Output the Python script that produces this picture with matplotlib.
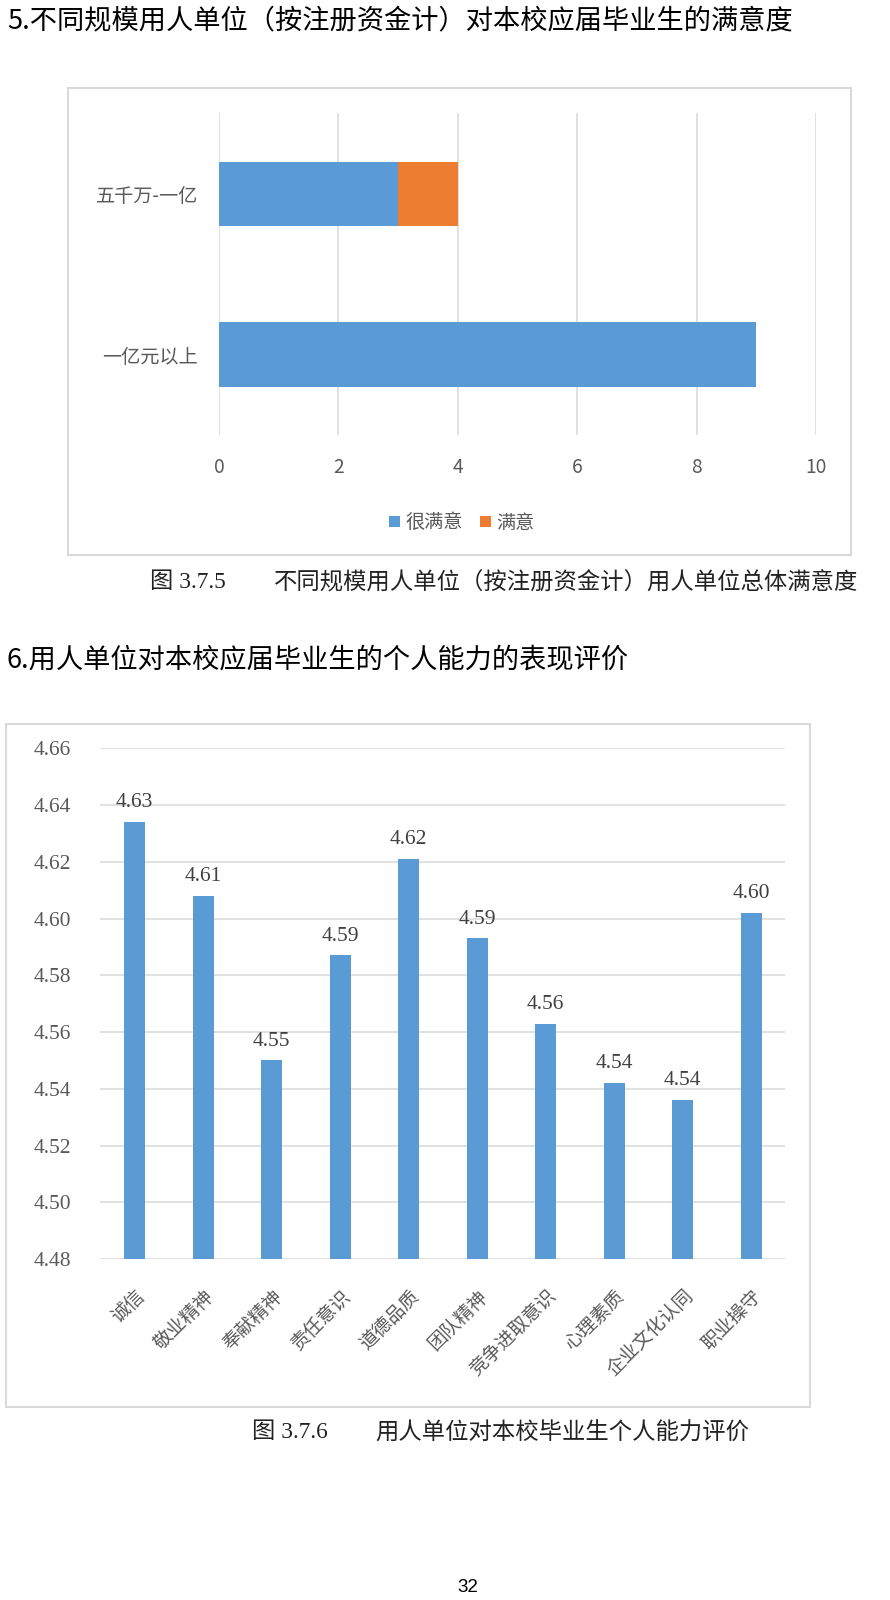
import matplotlib
matplotlib.use("Agg")
import matplotlib.pyplot as plt
from matplotlib.patches import Rectangle, Patch

plt.rcParams['font.family'] = ['Noto Sans CJK SC', 'DejaVu Sans']

# ---------------- data ----------------
scale_categories = ['一亿元以上', '五千万-一亿']
very_satisfied = [9, 3]
satisfied = [0, 1]
series_names = ['很满意', '满意']
x1_ticks = [0, 2, 4, 6, 8, 10]

ability_categories = ['诚信', '敬业精神', '奉献精神', '责任意识', '道德品质',
                      '团队精神', '竞争进取意识', '心理素质', '企业文化认同', '职业操守']
ability_scores = [4.634, 4.608, 4.550, 4.587, 4.621, 4.593, 4.563, 4.542, 4.536, 4.602]
y2_ticks = [4.48, 4.50, 4.52, 4.54, 4.56, 4.58, 4.60, 4.62, 4.64, 4.66]

title1 = '5.不同规模用人单位（按注册资金计）对本校应届毕业生的满意度'
title2 = '6.用人单位对本校应届毕业生的个人能力的表现评价'
cap1_num = '图 3.7.5'
cap1_text = '不同规模用人单位（按注册资金计）用人单位总体满意度'
cap2_num = '图 3.7.6'
cap2_text = '用人单位对本校毕业生个人能力评价'
page_no = '32'

BLUE = '#5B9BD5'
ORANGE = '#ED7D31'
GRID = '#D9D9D9'
TXT = '#595959'

W, H = 890, 1600
fig = plt.figure(figsize=(W / 100, H / 100), dpi=100)


def fx(px):
    return px / W


def fy(py):
    return 1 - py / H


def ax_rect(l, t, r, b):
    return [fx(l), fy(b), (r - l) / W, (b - t) / H]


serif_num = ['Liberation Serif', 'Noto Sans CJK SC']

# ---------------- titles ----------------
fig.text(fx(7), fy(21), title1, fontsize=19.6, fontweight='medium', va='center', ha='left', color='black')
fig.text(fx(7), fy(660), title2, fontsize=19.6, fontweight='medium', va='center', ha='left', color='black')

# ---------------- chart 1 ----------------
fig.patches.append(Rectangle((fx(68.3), fy(555)), (850.7 - 68.3) / W, (555 - 88.3) / H,
                             transform=fig.transFigure, fill=False, edgecolor=GRID, linewidth=1.5))
ax1 = fig.add_axes(ax_rect(219, 113.3, 816, 435))
ypos = list(range(len(scale_categories)))
ax1.barh(ypos, very_satisfied, height=0.4, color=BLUE, label=series_names[0], zorder=3)
ax1.barh(ypos, satisfied, left=very_satisfied, height=0.4, color=ORANGE, label=series_names[1], zorder=3)
ax1.set_xlim(0, 10)
ax1.set_ylim(-0.5, 1.5)
ax1.set_xticks(x1_ticks)
ax1.set_yticks(ypos)
ax1.set_yticklabels(scale_categories)
ax1.grid(axis='x', color=GRID, linewidth=1.1, zorder=0)
ax1.set_axisbelow(True)
for s in ax1.spines.values():
    s.set_visible(False)
ax1.tick_params(axis='both', length=0, labelcolor=TXT, labelsize=13.8)
ax1.tick_params(axis='x', pad=16)
ax1.tick_params(axis='y', pad=15)

handles = [Patch(facecolor=BLUE), Patch(facecolor=ORANGE)]
fig.legend(handles, series_names, loc='center', bbox_to_anchor=(fx(462), fy(523)), ncol=2,
           frameon=False, fontsize=13.8, handlelength=0.55, handleheight=0.55,
           handletextpad=0.3, columnspacing=0.9, labelcolor=TXT)

fig.text(fx(150), fy(583), cap1_num, fontsize=16.8, family=serif_num, va='center', ha='left', color='#222222')
fig.text(fx(274), fy(583), cap1_text, fontsize=16.8, va='center', ha='left', color='#222222')

# ---------------- chart 2 ----------------
fig.patches.append(Rectangle((fx(6), fy(1407)), (810 - 6) / W, (1407 - 724) / H,
                             transform=fig.transFigure, fill=False, edgecolor=GRID, linewidth=1.5))
ax2 = fig.add_axes(ax_rect(100.4, 748.3, 785.4, 1259))
xpos = list(range(len(ability_categories)))
bars = ax2.bar(xpos, ability_scores, width=0.31, color=BLUE, zorder=3)
ax2.set_ylim(4.48, 4.66)
ax2.set_xlim(-0.5, len(ability_categories) - 0.5)
ax2.set_yticks(y2_ticks)
ax2.set_yticklabels([f'{v:.2f}' for v in y2_ticks], family='Liberation Serif')
ax2.set_xticks(xpos)
ax2.set_xticklabels(ability_categories, rotation=45, ha='right', va='top', rotation_mode='anchor')
ax2.grid(axis='y', color=GRID, linewidth=1.1, zorder=0)
ax2.set_axisbelow(True)
for s in ax2.spines.values():
    s.set_visible(False)
ax2.tick_params(axis='both', length=0, labelcolor=TXT)
ax2.tick_params(axis='y', pad=21, labelsize=15.5)
ax2.tick_params(axis='x', pad=19, labelsize=13.6)
ax2.bar_label(bars, labels=[f'{v:.2f}' for v in ability_scores], padding=7,
              fontsize=15.5, family='Liberation Serif', color='#404040')

fig.text(fx(252), fy(1433), cap2_num, fontsize=16.8, family=serif_num, va='center', ha='left', color='#222222')
fig.text(fx(375), fy(1433), cap2_text, fontsize=16.8, va='center', ha='left', color='#222222')

fig.text(fx(468), fy(1588), page_no, fontsize=13.5, family='Liberation Sans', va='center', ha='center', color='black')

fig.savefig('out.png', dpi=100)
